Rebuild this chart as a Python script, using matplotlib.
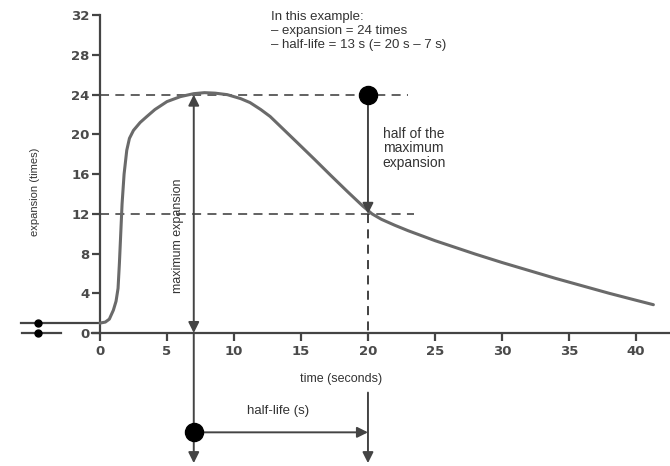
import numpy as np
from matplotlib import pyplot as plt

plt.rcParams['font.family'] = ['Liberation Sans', 'DejaVu Sans']

# expansion curve
time_s = [0, 0.4, 0.7, 1.0, 1.2, 1.35, 1.45, 1.55, 1.65, 1.8, 2.0, 2.2, 2.5,
          3.0, 3.5, 4.1, 5.0, 6.0, 7.0, 7.8, 8.6, 9.5, 10.5, 11.2, 12.0, 12.7,
          13.7, 14.7, 16.0, 17.2, 18.5, 19.6, 20.3, 21.0, 22.0, 23.0, 24.0,
          25.0, 26.0, 27.0, 28.0, 30.0, 32.0, 34.0, 36.0, 38.0, 40.0, 41.3]
expansion = [1.0, 1.1, 1.4, 2.3, 3.2, 4.5, 7.0, 10.0, 13.0, 16.0, 18.4, 19.6,
             20.4, 21.2, 21.8, 22.5, 23.3, 23.8, 24.1, 24.2, 24.15, 24.0, 23.6,
             23.2, 22.5, 21.8, 20.5, 19.2, 17.5, 15.9, 14.2, 12.8, 12.0, 11.45,
             10.85, 10.3, 9.8, 9.3, 8.85, 8.4, 7.95, 7.1, 6.3, 5.5, 4.75, 4.0,
             3.3, 2.85]

x_ticks = [0, 5, 10, 15, 20, 25, 30, 35, 40]
y_ticks = [0, 4, 8, 12, 16, 20, 24, 28, 32]

max_exp = 24
half_exp = 12
t_max = 7
t_half = 20

axis_col = '#444444'
text_col = '#333333'
curve_col = '#6a6a6a'

fig = plt.figure(figsize=(6.7, 4.66), dpi=100)
ax = fig.add_axes([0, 0, 1, 1])
ax.set_xlim(-7.46, 42.54)
ax.set_ylim(-13.39, 33.53)

# axes as spines
for s in ['top', 'right']:
    ax.spines[s].set_visible(False)
ax.spines['left'].set_position(('data', 0))
ax.spines['bottom'].set_position(('data', 0))
ax.spines['left'].set_bounds(0, 32)
ax.spines['bottom'].set_bounds(-0.6, 42.5)
for s in ['left', 'bottom']:
    ax.spines[s].set_color(axis_col)
    ax.spines[s].set_linewidth(1.6)
ax.set_xticks(x_ticks)
ax.set_yticks(y_ticks)
ax.tick_params(direction='out', length=5.5, width=1.6, color=axis_col,
               labelcolor='#4a4a4a', pad=2)
ax.tick_params(axis='x', pad=3)
for lab in ax.get_xticklabels() + ax.get_yticklabels():
    lab.set_fontfamily('DejaVu Sans')
    lab.set_fontweight('bold')
    lab.set_fontsize(9.5)

# baseline before the start (broken axis)
ax.plot([-5.9, 0], [1, 1], color=axis_col, lw=1.6)
ax.plot([-5.8, -2.9], [0, 0], color=axis_col, lw=1.6)
ax.plot([-4.6, -4.6], [1, 0], 'o', color='black', ms=5)

# dashed guide lines
ax.plot([0, 23], [max_exp, max_exp], ls=(0, (5, 3.5)), color='#555555', lw=1.3)
ax.plot([0, 23.4], [half_exp, half_exp], ls=(0, (5, 3.5)), color='#555555', lw=1.3)
ax.plot([t_half, t_half], [half_exp, 0], ls=(0, (5, 3.5)), color='#333333', lw=1.3)

# curve
ax.plot(time_s, expansion, color=curve_col, lw=2.2, solid_capstyle='round',
        solid_joinstyle='round', zorder=3)

arrow = dict(arrowstyle='-|>', color=axis_col, lw=1.4, mutation_scale=16,
             shrinkA=0, shrinkB=0)
arrow2 = dict(arrowstyle='<|-|>', color=axis_col, lw=1.4, mutation_scale=16,
              shrinkA=0, shrinkB=0)

# maximum expansion arrow
ax.annotate('', xy=(t_max, max_exp), xytext=(t_max, 0), arrowprops=arrow2, zorder=4)
ax.text(t_max - 1.2, 9.8, 'maximum expansion', rotation=90, ha='center',
        va='center', fontsize=9, color=text_col)

# half of the maximum expansion
ax.plot([t_half], [max_exp], 'o', color='black', ms=13, zorder=5)
ax.annotate('', xy=(t_half, half_exp), xytext=(t_half, max_exp), arrowprops=arrow, zorder=4)
ax.text(21.1, 18.6, 'half of the\nmaximum\nexpansion', ha='left', va='center',
        multialignment='left', fontsize=10, color=text_col, linespacing=1.05)

# half-life arrows below the axis
ax.annotate('', xy=(t_max, -13.1), xytext=(t_max, 0), arrowprops=arrow, zorder=4)
ax.annotate('', xy=(t_half, -13.1), xytext=(t_half, -6.0), arrowprops=arrow, zorder=4)
ax.plot([t_max], [-10], 'o', color='black', ms=13, zorder=5)
ax.annotate('', xy=(t_half, -10), xytext=(t_max, -10), arrowprops=arrow, zorder=4)
ax.text(13.3, -7.9, 'half-life (s)', ha='center', va='center', fontsize=9.5,
        color=text_col)

ax.text(18.0, -4.6, 'time (seconds)', ha='center', va='center', fontsize=9,
        color=text_col)
ax.text(-4.85, 14.2, 'expansion (times)', rotation=90, ha='center', va='center',
        fontsize=8, color=text_col)

ax.text(12.8, 32.4, 'In this example:\n\u2013 expansion = 24 times\n'
        '\u2013 half-life = 13 s (= 20 s \u2013 7 s)', ha='left', va='top',
        fontsize=9.5, color=text_col, linespacing=1.2)

fig.savefig('out.png', dpi=100)
